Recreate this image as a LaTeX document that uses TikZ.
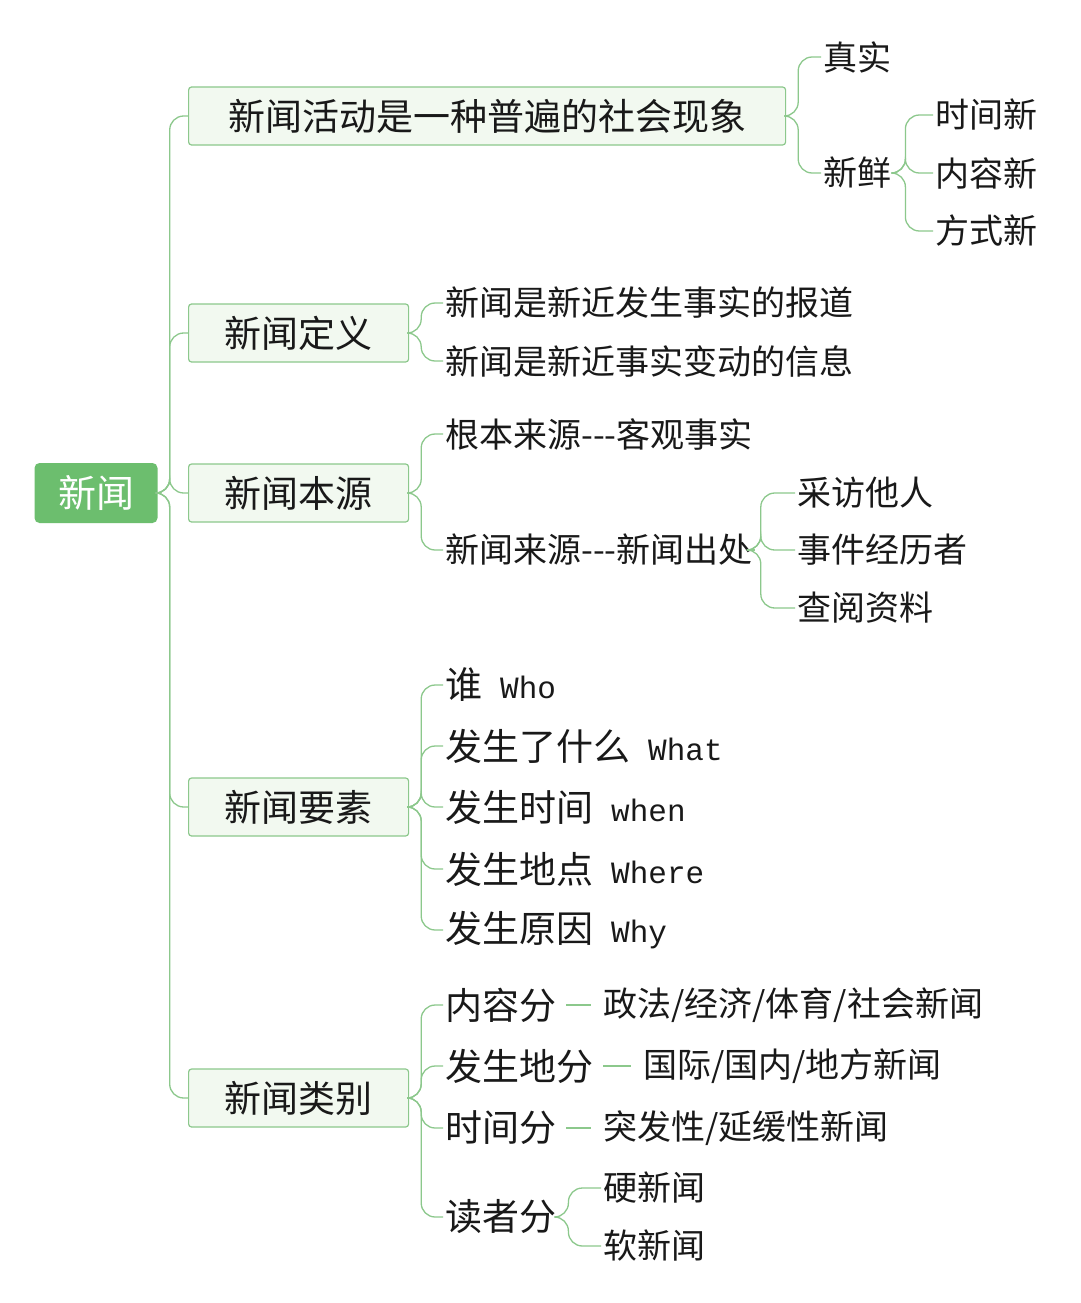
\documentclass[tikz,border=0pt]{standalone}
\usepackage{fontspec}
\setmainfont{Noto Sans CJK SC}
\newfontfamily\monof{Liberation Mono}
\definecolor{lg}{RGB}{140,200,140}
\definecolor{rootg}{RGB}{108,190,110}
\definecolor{boxf}{RGB}{242,249,240}
\definecolor{tx}{RGB}{25,25,25}
\begin{document}
\begin{tikzpicture}[x=1pt,y=-1pt,
  conn/.style={draw=lg,line width=1.3pt,rounded corners=14pt},
  rootbox/.style={fill=rootg,rounded corners=5pt,text=white,font=\fontsize{38}{42}\selectfont,minimum width=123pt,minimum height=60pt,inner sep=0pt},
  brbox/.style={draw=lg,fill=boxf,line width=1.2pt,rounded corners=3pt,text=tx,font=\fontsize{37}{42}\selectfont,minimum height=58pt,anchor=west,inner xsep=35pt},
  leaf/.style={anchor=west,text=tx,font=\fontsize{34}{38}\selectfont,inner sep=2pt},
  big/.style={anchor=west,text=tx,font=\fontsize{37}{42}\selectfont,inner sep=2pt},
  mono/.style={font=\monof\fontsize{31}{36}\selectfont}]
\useasboundingbox (0,0) rectangle (1080,1303);
\fill[white] (0,0) rectangle (1080,1303);
\node[rootbox] (r) at (96,493) {新闻};
\node[brbox,minimum width=597pt] (b1) at (188,116) {新闻活动是一种普遍的社会现象};
\node[brbox,minimum width=220pt] (b2) at (188,333) {新闻定义};
\node[brbox,minimum width=220pt] (b3) at (188,493) {新闻本源};
\node[brbox,minimum width=220pt] (b4) at (188,807) {新闻要素};
\node[brbox,minimum width=220pt] (b5) at (188,1098) {新闻类别};
\foreach \b in {b1,b2,b3,b4,b5} \draw[conn] (r.east) -- ++(12,0) |- (\b.west);
% b1
\node[leaf] (l11) at (821,57) {真实};
\node[leaf] (l12) at (821,173) {新鲜};
\node[leaf] (l121) at (933,115) {时间新};
\node[leaf] (l122) at (933,173) {内容新};
\node[leaf] (l123) at (933,231) {方式新};
\foreach \c in {l11,l12} \draw[conn] (b1.east) -- ++(12,0) |- (\c.west);
\foreach \c in {l121,l122,l123} \draw[conn] (l12.east) -- ++(12,0) |- (\c.west);
% b2
\node[leaf] (l21) at (443,303) {新闻是新近发生事实的报道};
\node[leaf] (l22) at (443,361) {新闻是新近事实变动的信息};
\foreach \c in {l21,l22} \draw[conn] (b2.east) -- ++(12,0) |- (\c.west);
% b3
\node[leaf] (l31) at (443,434) {根本来源-{}-{}-客观事实};
\node[leaf] (l32) at (443,550) {新闻来源-{}-{}-新闻出处};
\node[leaf] (l321) at (795,493) {采访他人};
\node[leaf] (l322) at (795,550) {事件经历者};
\node[leaf] (l323) at (795,608) {查阅资料};
\foreach \c in {l31,l32} \draw[conn] (b3.east) -- ++(12,0) |- (\c.west);
\foreach \c in {l321,l322,l323} \draw[conn] (l32.east) -- ++(6,0) |- (\c.west);
% b4
\node[big] (l41) at (443,685) {谁\hspace{18pt}{\monof\fontsize{31}{36}\selectfont Who}};
\node[big] (l42) at (443,746) {发生了什么\hspace{18pt}{\monof\fontsize{31}{36}\selectfont What}};
\node[big] (l43) at (443,807) {发生时间\hspace{18pt}{\monof\fontsize{31}{36}\selectfont when}};
\node[big] (l44) at (443,869) {发生地点\hspace{18pt}{\monof\fontsize{31}{36}\selectfont Where}};
\node[big] (l45) at (443,930) {发生原因\hspace{18pt}{\monof\fontsize{31}{36}\selectfont Why}};
\foreach \c in {l41,l42,l43,l44,l45} \draw[conn] (b4.east) -- ++(12,0) |- (\c.west);
% b5
\node[big] (l51) at (443,1005) {内容分};
\node[big] (l52) at (443,1066) {发生地分};
\node[big] (l53) at (443,1128) {时间分};
\node[big] (l54) at (443,1217) {读者分};
\foreach \c in {l51,l52,l53,l54} \draw[conn] (b5.east) -- ++(12,0) |- (\c.west);
\node[leaf] (m51) at (601,1005) {政法/经济/体育/社会新闻};
\node[leaf] (m52) at (641,1066) {国际/国内/地方新闻};
\node[leaf] (m53) at (601,1128) {突发性/延缓性新闻};
\node[leaf] (m541) at (601,1188) {硬新闻};
\node[leaf] (m542) at (601,1246) {软新闻};
\draw[conn] ([xshift=8pt]l51.east) -- ([xshift=-10pt]m51.west);
\draw[conn] ([xshift=8pt]l52.east) -- ([xshift=-10pt]m52.west);
\draw[conn] ([xshift=8pt]l53.east) -- ([xshift=-10pt]m53.west);
\foreach \c in {m541,m542} \draw[conn] (l54.east) -- ++(10,0) |- (\c.west);
\end{tikzpicture}
\end{document}
